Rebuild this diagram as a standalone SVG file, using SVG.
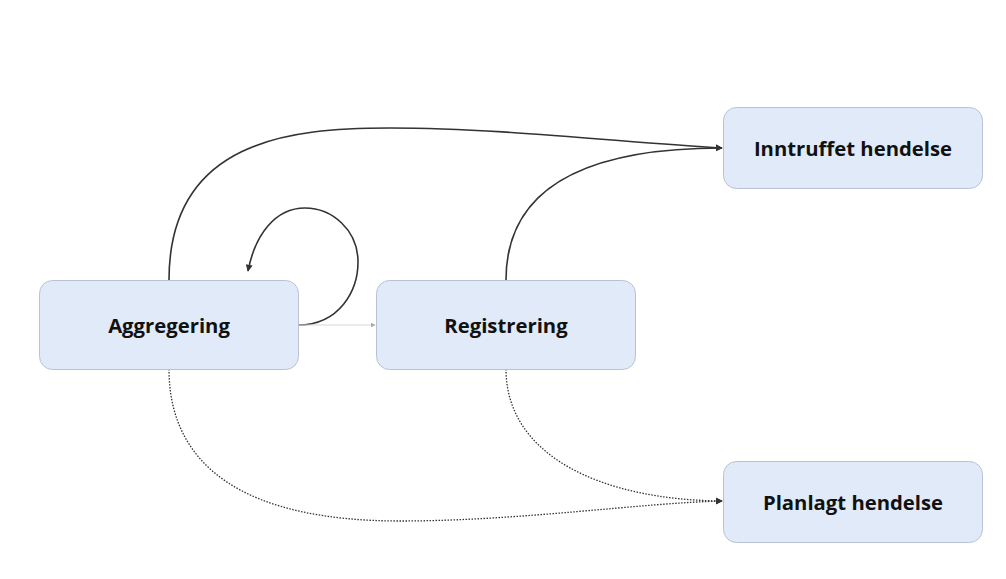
<svg xmlns="http://www.w3.org/2000/svg" width="1006" height="579" viewBox="0 0 1006 579">
<defs>
<style>
.node rect{fill:#e1eaf8;stroke:#b7c3d3;stroke-width:1}
.node text{font-family:"Open Sans","Noto Sans",sans-serif;font-weight:bold;font-size:20.3px;fill:#111;text-anchor:middle;dominant-baseline:central}
.e{fill:none;stroke:#333;stroke-width:1.6}
.d{fill:none;stroke:#333;stroke-width:1.3;stroke-dasharray:1.5 1.5}
.l{fill:none;stroke:#d8d8d8;stroke-width:1.2}
</style>
<marker id="a" viewBox="0 0 10 10" refX="9" refY="5" markerWidth="7" markerHeight="7" markerUnits="userSpaceOnUse" orient="auto"><path d="M0,0 L10,5 L0,10 z" fill="#333"/></marker>
<marker id="al" viewBox="0 0 10 10" refX="9" refY="5" markerWidth="5" markerHeight="5" markerUnits="userSpaceOnUse" orient="auto"><path d="M0,0 L10,5 L0,10 z" fill="#aaa"/></marker>
</defs>
<rect width="1006" height="579" fill="#fff"/>
<g id="connectors">
<path class="e" d="M169,280 C169,140 290,128 390,128 C500,128 620,142 722,148" marker-end="url(#a)"/>
<path class="e" d="M506,280 C506,180 600,148 722,148" marker-end="url(#a)"/>
<path class="e" d="M298,325 C340,325 358,290 358,262 C358,230 332,208 305,208 C275,208 255,235 248,271" marker-end="url(#a)"/>
<path class="l" d="M298,325 L375,325" marker-end="url(#al)"/>
<path class="d" d="M169,369 C169,470 250,521 400,521 C520,521 640,503 722,501" marker-end="url(#a)"/>
<path class="d" d="M506,369 C506,455 600,500 722,501" marker-end="url(#a)"/>
</g>
<g id="node-aggregering" class="node"><rect x="39.5" y="280.5" width="259" height="89" rx="13"/><text x="169" y="325">Aggregering</text></g>
<g id="node-registrering" class="node"><rect x="376.5" y="280.5" width="259" height="89" rx="13"/><text x="506" y="325">Registrering</text></g>
<g id="node-inntruffet" class="node"><rect x="723.5" y="107.5" width="259" height="81" rx="13"/><text x="853" y="148">Inntruffet hendelse</text></g>
<g id="node-planlagt" class="node"><rect x="723.5" y="461.5" width="259" height="81" rx="13"/><text x="853" y="502">Planlagt hendelse</text></g>
</svg>
